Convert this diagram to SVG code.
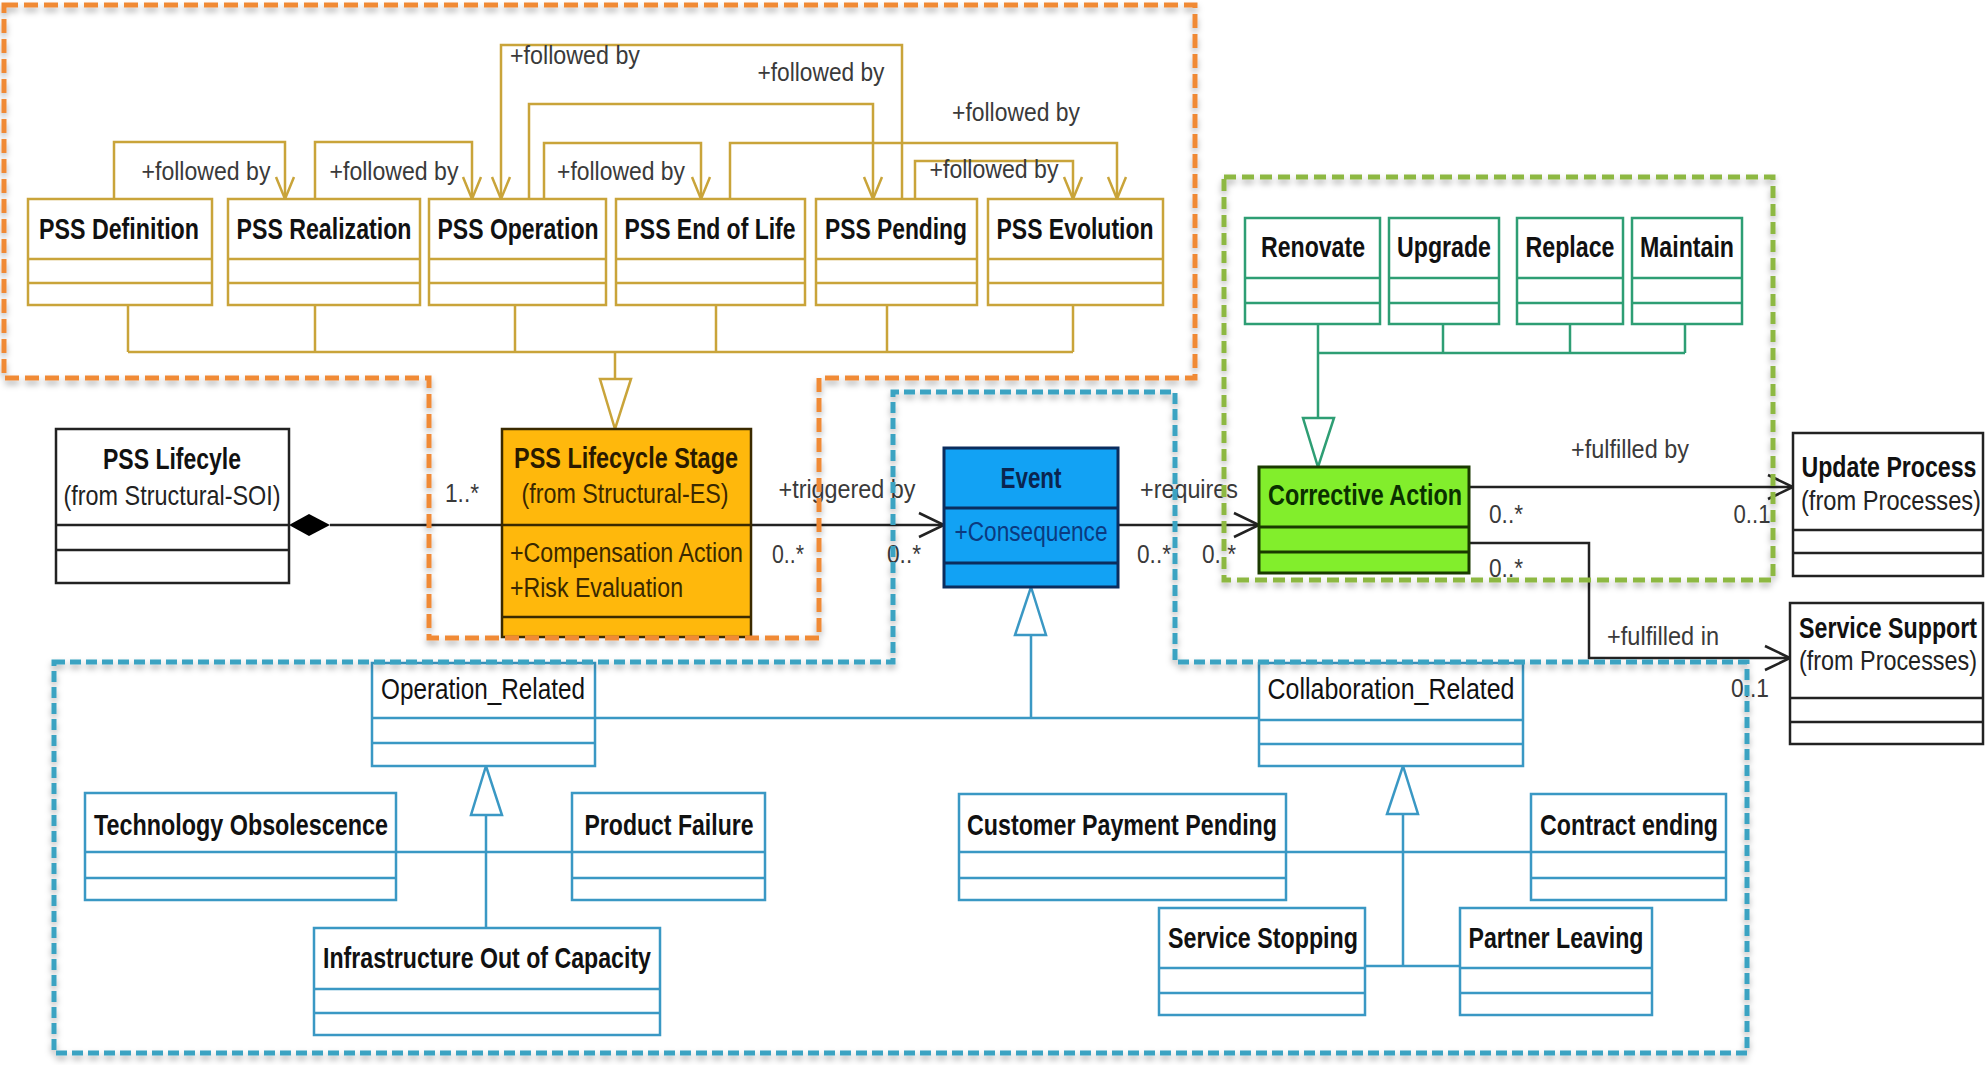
<svg xmlns="http://www.w3.org/2000/svg" width="1986" height="1065" viewBox="0 0 1986 1065">
<style>
text{font-family:"Liberation Sans",Arial,sans-serif}
.t{font-size:30px;font-weight:bold;fill:#111;text-anchor:middle}
.r{font-size:30px;fill:#111;text-anchor:middle}
.s{font-size:28px;fill:#222;text-anchor:middle}
.l{font-size:25px;fill:#3a3a3a;text-anchor:middle}
.a{font-size:27px;fill:#3a2800}
.gb{fill:#fff;stroke:#C9A43A;stroke-width:2.5}
.gl{fill:none;stroke:#C9A43A;stroke-width:2.5}
.tb{fill:#fff;stroke:#2E9E74;stroke-width:2.5}
.tl{fill:none;stroke:#2E9E74;stroke-width:2.5}
.bb{fill:#fff;stroke:#3A98C4;stroke-width:2.5}
.bl{fill:none;stroke:#3A98C4;stroke-width:2.5}
.kb{fill:#fff;stroke:#222;stroke-width:2.5}
.kl{fill:none;stroke:#222;stroke-width:2.5}
.dash{fill:none;stroke-width:5;filter:url(#sh)}
</style>
<defs>
<filter id="sh" x="-5%" y="-5%" width="110%" height="110%">
<feDropShadow dx="0" dy="4" stdDeviation="3" flood-color="#000" flood-opacity="0.3"/>
</filter>
<marker id="ag" markerUnits="userSpaceOnUse" markerWidth="26" markerHeight="22" refX="22" refY="9" orient="auto" overflow="visible">
<path d="M0,0 L22,9 L0,18" fill="none" stroke="#C9A43A" stroke-width="2.5"/>
</marker>
<marker id="ak" markerUnits="userSpaceOnUse" markerWidth="30" markerHeight="30" refX="25" refY="12" orient="auto" overflow="visible">
<path d="M0,0 L25,12 L0,24" fill="none" stroke="#222" stroke-width="2.5"/>
</marker>
</defs>
<rect width="1986" height="1065" fill="#fff"/>

<g id="connectors">
<!-- followed by associations -->
<polyline class="gl" points="114,199 114,142 285,142 285,199" marker-end="url(#ag)"/>
<polyline class="gl" points="315,199 315,142 472,142 472,199" marker-end="url(#ag)"/>
<polyline class="gl" points="902,199 902,45 501,45 501,199" marker-end="url(#ag)"/>
<polyline class="gl" points="529,199 529,104 873,104 873,199" marker-end="url(#ag)"/>
<polyline class="gl" points="544,199 544,143 701,143 701,199" marker-end="url(#ag)"/>
<polyline class="gl" points="730,199 730,143 1117,143 1117,199" marker-end="url(#ag)"/>
<polyline class="gl" points="915,199 915,161 1073,161 1073,199" marker-end="url(#ag)"/>
<text class="l" x="206" y="180" textLength="129" lengthAdjust="spacingAndGlyphs">+followed by</text>
<text class="l" x="394" y="180" textLength="129" lengthAdjust="spacingAndGlyphs">+followed by</text>
<text class="l" x="575" y="64" textLength="130" lengthAdjust="spacingAndGlyphs">+followed by</text>
<text class="l" x="821" y="81" textLength="127" lengthAdjust="spacingAndGlyphs">+followed by</text>
<text class="l" x="621" y="180" textLength="128" lengthAdjust="spacingAndGlyphs">+followed by</text>
<text class="l" x="1016" y="121" textLength="128" lengthAdjust="spacingAndGlyphs">+followed by</text>
<text class="l" x="994" y="178" textLength="129" lengthAdjust="spacingAndGlyphs">+followed by</text>
<!-- stage generalization -->
<path class="gl" d="M128,305V352M315,305V352M515,305V352M716,305V352M887,305V352M1073,305V352M128,352H1073M615,352V379"/>
<polygon points="600,379 631,379 615,429" fill="#fff" stroke="#C9A43A" stroke-width="2.5"/>
<!-- composition and associations -->
<line class="kl" x1="330" y1="525" x2="502" y2="525"/>
<polygon points="289,525 309,514 330,525 309,536" fill="#000"/>
<text class="l" x="462" y="502" textLength="34" lengthAdjust="spacingAndGlyphs">1..*</text>
<line class="kl" x1="751" y1="525" x2="944" y2="525" marker-end="url(#ak)"/>
<text class="l" x="847" y="498" textLength="137" lengthAdjust="spacingAndGlyphs">+triggered by</text>
<text class="l" x="788" y="563" textLength="32" lengthAdjust="spacingAndGlyphs">0..*</text>
<text class="l" x="904" y="563" textLength="34" lengthAdjust="spacingAndGlyphs">0..*</text>
<line class="kl" x1="1118" y1="525" x2="1259" y2="525" marker-end="url(#ak)"/>
<text class="l" x="1189" y="498" textLength="98" lengthAdjust="spacingAndGlyphs">+requires</text>
<text class="l" x="1154" y="563" textLength="34" lengthAdjust="spacingAndGlyphs">0..*</text>
<text class="l" x="1219" y="563" textLength="34" lengthAdjust="spacingAndGlyphs">0..*</text>
<line class="kl" x1="1469" y1="487" x2="1793" y2="487" marker-end="url(#ak)"/>
<text class="l" x="1630" y="458" textLength="118" lengthAdjust="spacingAndGlyphs">+fulfilled by</text>
<text class="l" x="1506" y="523" textLength="34" lengthAdjust="spacingAndGlyphs">0..*</text>
<text class="l" x="1752" y="523" textLength="37" lengthAdjust="spacingAndGlyphs">0..1</text>
<polyline class="kl" points="1469,543 1589,543 1589,658 1790,658" marker-end="url(#ak)"/>
<text class="l" x="1506" y="577" textLength="34" lengthAdjust="spacingAndGlyphs">0..*</text>
<text class="l" x="1663" y="645" textLength="112" lengthAdjust="spacingAndGlyphs">+fulfilled in</text>
<text class="l" x="1750" y="697" textLength="38" lengthAdjust="spacingAndGlyphs">0..1</text>
<!-- corrective action generalization -->
<path class="tl" d="M1318,324V353M1443,324V353M1570,324V353M1685,324V353M1318,353H1685M1318,353V418"/>
<polygon points="1303,418 1334,418 1318,467" fill="#fff" stroke="#2E9E74" stroke-width="2.5"/>
<!-- event generalization -->
<path class="bl" d="M595,718H1259M1031,718V635"/>
<polygon points="1015,635 1046,635 1031,587" fill="#fff" stroke="#3A98C4" stroke-width="2.5"/>
<path class="bl" d="M486,815V928M396,852H572"/>
<polygon points="471,815 502,815 486,766" fill="#fff" stroke="#3A98C4" stroke-width="2.5"/>
<path class="bl" d="M1403,814V966M1365,966H1460M1286,852H1531"/>
<polygon points="1387,814 1418,814 1403,766" fill="#fff" stroke="#3A98C4" stroke-width="2.5"/>
</g>

<g id="pss-definition"><rect class="gb" x="28" y="199" width="184" height="106"/><path class="gl" d="M28,259H212M28,283H212"/><text class="t" x="119" y="239" textLength="160" lengthAdjust="spacingAndGlyphs">PSS Definition</text></g>
<g id="pss-realization"><rect class="gb" x="228" y="199" width="192" height="106"/><path class="gl" d="M228,259H420M228,283H420"/><text class="t" x="324" y="239" textLength="175" lengthAdjust="spacingAndGlyphs">PSS Realization</text></g>
<g id="pss-operation"><rect class="gb" x="429" y="199" width="177" height="106"/><path class="gl" d="M429,259H606M429,283H606"/><text class="t" x="518" y="239" textLength="161" lengthAdjust="spacingAndGlyphs">PSS Operation</text></g>
<g id="pss-end-of-life"><rect class="gb" x="616" y="199" width="189" height="106"/><path class="gl" d="M616,259H805M616,283H805"/><text class="t" x="710" y="239" textLength="171" lengthAdjust="spacingAndGlyphs">PSS End of Life</text></g>
<g id="pss-pending"><rect class="gb" x="816" y="199" width="161" height="106"/><path class="gl" d="M816,259H977M816,283H977"/><text class="t" x="896" y="239" textLength="142" lengthAdjust="spacingAndGlyphs">PSS Pending</text></g>
<g id="pss-evolution"><rect class="gb" x="988" y="199" width="175" height="106"/><path class="gl" d="M988,259H1163M988,283H1163"/><text class="t" x="1075" y="239" textLength="157" lengthAdjust="spacingAndGlyphs">PSS Evolution</text></g>

<g id="pss-lifecycle"><rect class="kb" x="56" y="429" width="233" height="154"/><path class="kl" d="M56,525H289M56,550H289"/><text class="t" x="172" y="469" textLength="138" lengthAdjust="spacingAndGlyphs">PSS Lifecyle</text><text class="s" x="172" y="505" textLength="217" lengthAdjust="spacingAndGlyphs">(from Structural-SOI)</text></g>

<g id="pss-lifecycle-stage"><rect x="502" y="429" width="249" height="208" fill="#FFB80C" stroke="#3a2a00" stroke-width="2.5"/><path d="M502,525H751M502,617H751" stroke="#3a2a00" stroke-width="2.5"/><text class="t" x="626" y="468" textLength="224" lengthAdjust="spacingAndGlyphs" style="fill:#2a1a00">PSS Lifecycle Stage</text><text class="s" x="625" y="503" textLength="207" lengthAdjust="spacingAndGlyphs" style="fill:#3a2800">(from Structural-ES)</text><text class="a" x="510" y="562" textLength="233" lengthAdjust="spacingAndGlyphs">+Compensation Action</text><text class="a" x="510" y="597" textLength="173" lengthAdjust="spacingAndGlyphs">+Risk Evaluation</text></g>

<g id="event"><rect x="944" y="448" width="174" height="139" fill="#12A2F4" stroke="#0B2D5E" stroke-width="3"/><path d="M944,508H1118M944,563H1118" stroke="#0B2D5E" stroke-width="3"/><text class="t" x="1031" y="488" textLength="61" lengthAdjust="spacingAndGlyphs" style="fill:#0a2550">Event</text><text class="a" x="1031" y="541" textLength="153" lengthAdjust="spacingAndGlyphs" style="fill:#0b3a80;text-anchor:middle">+Consequence</text></g>

<g id="corrective-action"><rect x="1259" y="467" width="210" height="106" fill="#82EE2C" stroke="#1a3a00" stroke-width="3"/><path d="M1259,527H1469M1259,552H1469" stroke="#1a3a00" stroke-width="3"/><text class="t" x="1365" y="505" textLength="194" lengthAdjust="spacingAndGlyphs" style="fill:#0a3000">Corrective Action</text></g>

<g id="renovate"><rect class="tb" x="1245" y="218" width="135" height="106"/><path class="tl" d="M1245,278H1380M1245,303H1380"/><text class="t" x="1313" y="257" textLength="104" lengthAdjust="spacingAndGlyphs">Renovate</text></g>
<g id="upgrade"><rect class="tb" x="1389" y="218" width="110" height="106"/><path class="tl" d="M1389,278H1499M1389,303H1499"/><text class="t" x="1444" y="257" textLength="94" lengthAdjust="spacingAndGlyphs">Upgrade</text></g>
<g id="replace"><rect class="tb" x="1517" y="218" width="106" height="106"/><path class="tl" d="M1517,278H1623M1517,303H1623"/><text class="t" x="1570" y="257" textLength="89" lengthAdjust="spacingAndGlyphs">Replace</text></g>
<g id="maintain"><rect class="tb" x="1632" y="218" width="110" height="106"/><path class="tl" d="M1632,278H1742M1632,303H1742"/><text class="t" x="1687" y="257" textLength="94" lengthAdjust="spacingAndGlyphs">Maintain</text></g>

<g id="update-process"><rect class="kb" x="1793" y="433" width="190" height="143"/><path class="kl" d="M1793,530H1983M1793,553H1983"/><text class="t" x="1889" y="477" textLength="175" lengthAdjust="spacingAndGlyphs">Update Process</text><text class="s" x="1891" y="510" textLength="180" lengthAdjust="spacingAndGlyphs">(from Processes)</text></g>
<g id="service-support"><rect class="kb" x="1790" y="603" width="193" height="141"/><path class="kl" d="M1790,698H1983M1790,722H1983"/><text class="t" x="1888" y="638" textLength="178" lengthAdjust="spacingAndGlyphs">Service Support</text><text class="s" x="1888" y="670" textLength="178" lengthAdjust="spacingAndGlyphs">(from Processes)</text></g>

<g id="operation-related"><rect class="bb" x="372" y="663" width="223" height="103"/><path class="bl" d="M372,718H595M372,743H595"/><text class="r" x="483" y="699" textLength="204" lengthAdjust="spacingAndGlyphs">Operation_Related</text></g>
<g id="technology-obsolescence"><rect class="bb" x="85" y="793" width="311" height="107"/><path class="bl" d="M85,852H396M85,878H396"/><text class="t" x="241" y="835" textLength="294" lengthAdjust="spacingAndGlyphs">Technology Obsolescence</text></g>
<g id="product-failure"><rect class="bb" x="572" y="793" width="193" height="107"/><path class="bl" d="M572,852H765M572,878H765"/><text class="t" x="669" y="835" textLength="169" lengthAdjust="spacingAndGlyphs">Product Failure</text></g>
<g id="infrastructure-out-of-capacity"><rect class="bb" x="314" y="928" width="346" height="107"/><path class="bl" d="M314,989H660M314,1013H660"/><text class="t" x="487" y="968" textLength="328" lengthAdjust="spacingAndGlyphs">Infrastructure Out of Capacity</text></g>

<g id="collaboration-related"><rect class="bb" x="1259" y="663" width="264" height="103"/><path class="bl" d="M1259,720H1523M1259,744H1523"/><text class="r" x="1391" y="699" textLength="247" lengthAdjust="spacingAndGlyphs">Collaboration_Related</text></g>
<g id="customer-payment-pending"><rect class="bb" x="959" y="794" width="327" height="106"/><path class="bl" d="M959,852H1286M959,878H1286"/><text class="t" x="1122" y="835" textLength="310" lengthAdjust="spacingAndGlyphs">Customer Payment Pending</text></g>
<g id="contract-ending"><rect class="bb" x="1531" y="794" width="195" height="106"/><path class="bl" d="M1531,852H1726M1531,878H1726"/><text class="t" x="1629" y="835" textLength="178" lengthAdjust="spacingAndGlyphs">Contract ending</text></g>
<g id="service-stopping"><rect class="bb" x="1159" y="908" width="206" height="107"/><path class="bl" d="M1159,968H1365M1159,993H1365"/><text class="t" x="1263" y="948" textLength="190" lengthAdjust="spacingAndGlyphs">Service Stopping</text></g>
<g id="partner-leaving"><rect class="bb" x="1460" y="908" width="192" height="107"/><path class="bl" d="M1460,968H1652M1460,993H1652"/><text class="t" x="1556" y="948" textLength="175" lengthAdjust="spacingAndGlyphs">Partner Leaving</text></g>

<g id="regions">
<polygon class="dash" points="4,5 1195,5 1195,378 819,378 819,638 429,638 429,378 4,378" stroke="#F08A36" stroke-dasharray="14 6"/>
<rect class="dash" x="1224" y="177" width="549" height="403" stroke="#8DB843" stroke-dasharray="12 6"/>
<polygon class="dash" points="54,662 893,662 893,392 1175,392 1175,662 1747,662 1747,1053 54,1053" stroke="#3AA3C2" stroke-dasharray="11 5"/>
</g>
</svg>
